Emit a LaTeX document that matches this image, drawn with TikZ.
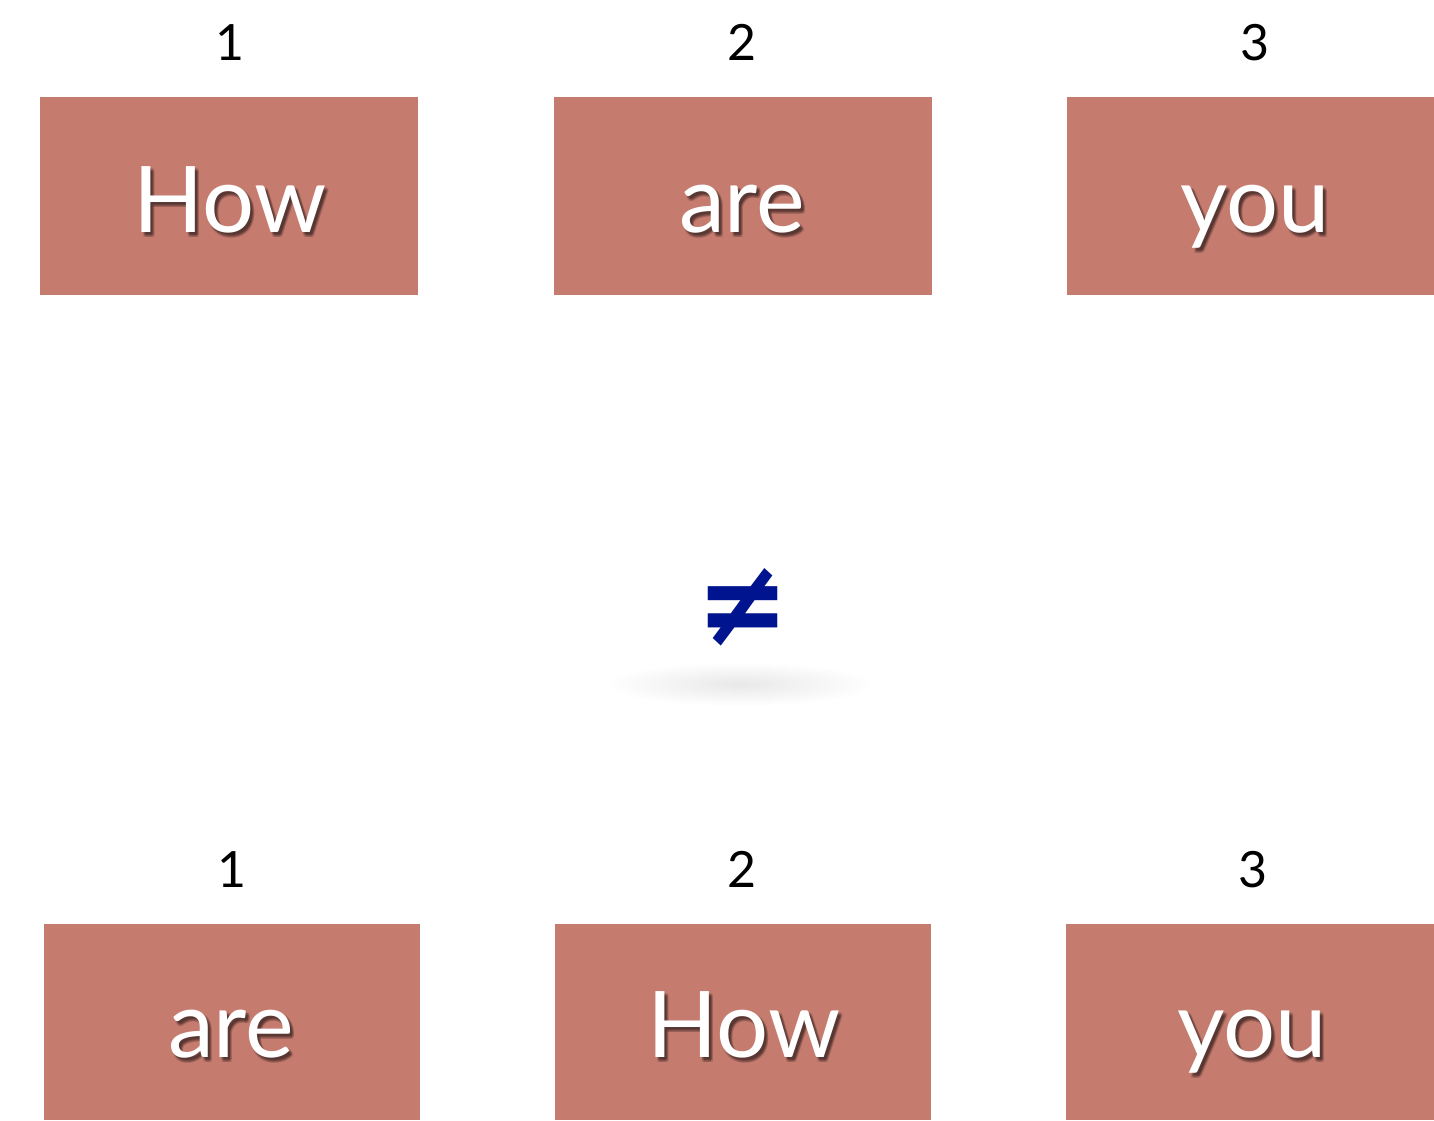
\documentclass[tikz,border=0pt]{standalone}
\usepackage{fontspec}
\setmainfont{Lato}
\newfontfamily\symfont{DejaVu Sans}
\definecolor{boxred}{HTML}{C67B6F}
\definecolor{neqblue}{HTML}{00148F}
\begin{document}
\begin{tikzpicture}[x=1pt,y=-1pt,
  wordbox/.style={fill=boxred, draw=none, minimum width=378pt, minimum height=198pt, inner sep=0pt},
  wordtxt/.style={text=white, font=\fontsize{92}{100}\selectfont, anchor=base, inner sep=0pt},
  wordshadow/.style={text=black, opacity=0.12, font=\fontsize{92}{100}\selectfont, anchor=base, inner sep=0pt},
  numtxt/.style={text=black, font=\fontsize{50}{56}\selectfont, anchor=base, inner sep=0pt}]
\useasboundingbox (0,0) rectangle (1434,1120);
\fill[white] (0,0) rectangle (1434,1120);

\newcommand{\shword}[4]{%
  \foreach \dx/\dy in {2/3,3/4,4/5,3/2,2/5,4/3}{\node[wordshadow] at ([xshift=\dx pt,yshift=-\dy pt]#2) {#4};}
  \node[wordtxt] (#1) at (#2) {#4};}

% top row
\node[wordbox] (b1) at (229,196) {};
\node[wordbox] (b2) at (743,196) {};
\node[wordbox, minimum width=367pt] (b3) at (1250.5,196) {};
\coordinate (t1) at (230,232);
\coordinate (t2) at (742,232);
\coordinate (t3) at (1255,232);
\shword{w1}{t1}{b1}{How}
\shword{w2}{t2}{b2}{are}
\shword{w3}{t3}{b3}{you}
\node[numtxt] (n1) at (230,60) {1};
\node[numtxt] (n2) at (742,60) {2};
\node[numtxt] (n3) at (1255,60) {3};

% not equal with soft shadow
\shade[inner color=black!9, outer color=white] (740,684) ellipse (135pt and 22pt);
\node[text=neqblue, font=\symfont\bfseries\fontsize{111}{112}\selectfont, inner sep=0pt, yscale=1.1] (neq) at (743,607) {≠};

% bottom row
\node[wordbox, minimum width=376pt, minimum height=196pt] (c1) at (232,1022) {};
\node[wordbox, minimum width=376pt, minimum height=196pt] (c2) at (743,1022) {};
\node[wordbox, minimum width=368pt, minimum height=196pt] (c3) at (1250,1022) {};
\coordinate (u1) at (231,1057);
\coordinate (u2) at (744,1057);
\coordinate (u3) at (1252,1057);
\shword{v1}{u1}{c1}{are}
\shword{v2}{u2}{c2}{How}
\shword{v3}{u3}{c3}{you}
\node[numtxt] (m1) at (232,887) {1};
\node[numtxt] (m2) at (742,887) {2};
\node[numtxt] (m3) at (1253,887) {3};
\end{tikzpicture}
\end{document}
